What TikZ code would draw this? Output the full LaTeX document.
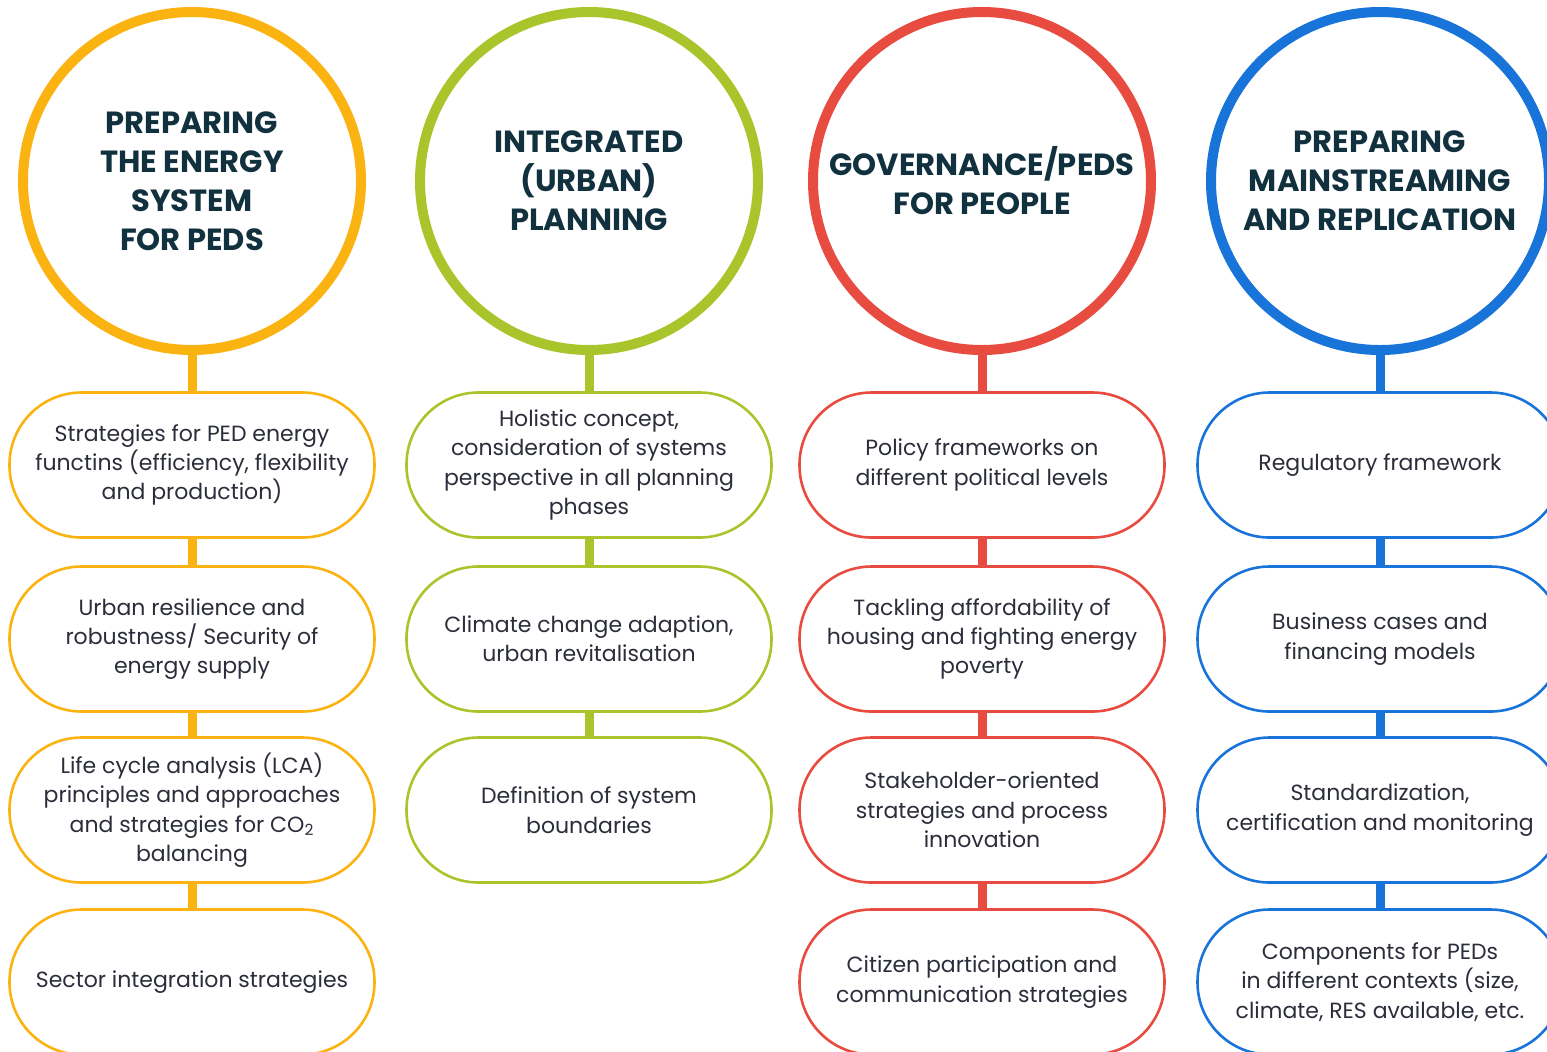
\documentclass[tikz,border=0pt]{standalone}
\usepackage{fontspec}
\setmainfont{Poppins}
\definecolor{pedorange}{HTML}{FBB311}
\definecolor{pedgreen}{HTML}{A9C52B}
\definecolor{pedred}{HTML}{E84B40}
\definecolor{pedblue}{HTML}{1874D8}
\definecolor{titleink}{HTML}{12313F}
\definecolor{bodyink}{HTML}{2B2E3A}
\begin{document}
\begin{tikzpicture}
  [x=0.5pt,y=-0.5pt,
   hub/.style={circle,draw,line width=5pt,minimum size=169pt,inner sep=0pt,align=center,
     text=titleink,font=\fontsize{15.3pt}{19.5pt}\selectfont\bfseries},
   item/.style={rectangle,draw,line width=1.3pt,rounded corners=36pt,minimum width=182.5pt,
     minimum height=72.5pt,inner sep=0pt,align=center,text=bodyink,
     font=\fontsize{11pt}{14.7pt}\selectfont},
   link/.style={line width=4.5pt}]
  \useasboundingbox (0,0) rectangle (1547,1051);
  \node[hub,draw=pedorange] (c1) at (192,181) {PREPARING\\THE ENERGY\\SYSTEM\\FOR PEDS};
  \node[hub,draw=pedgreen] (c2) at (589,181) {INTEGRATED\\(URBAN)\\PLANNING};
  \node[hub,draw=pedred] (c3) at (982,181) {GOVERNANCE/PEDS\\FOR PEOPLE};
  \node[hub,draw=pedblue] (c4) at (1380,181) {PREPARING\\MAINSTREAMING\\AND REPLICATION};

  \node[item,draw=pedorange] (a1) at (192,465) {Strategies for PED energy\\functins (efficiency, flexibility\\and production)};
  \node[item,draw=pedorange] (a2) at (192,639) {Urban resilience and\\robustness/ Security of\\energy supply};
  \node[item,draw=pedorange] (a3) at (192,810) {Life cycle analysis (LCA)\\principles and approaches\\and strategies for CO\textsubscript{2}\\balancing};
  \node[item,draw=pedorange] (a4) at (192,982) {Sector integration strategies};

  \node[item,draw=pedgreen] (b1) at (589,465) {Holistic concept,\\consideration of systems\\perspective in all planning\\phases};
  \node[item,draw=pedgreen] (b2) at (589,639) {Climate change adaption,\\urban revitalisation};
  \node[item,draw=pedgreen] (b3) at (589,810) {Definition of system\\boundaries};

  \node[item,draw=pedred] (d1) at (982,465) {Policy frameworks on\\different political levels};
  \node[item,draw=pedred] (d2) at (982,639) {Tackling affordability of\\housing and fighting energy\\poverty};
  \node[item,draw=pedred] (d3) at (982,810) {Stakeholder-oriented\\strategies and process\\innovation};
  \node[item,draw=pedred] (d4) at (982,982) {Citizen participation and\\communication strategies};

  \node[item,draw=pedblue] (e1) at (1380,465) {Regulatory framework};
  \node[item,draw=pedblue] (e2) at (1380,639) {Business cases and\\financing models};
  \node[item,draw=pedblue] (e3) at (1380,810) {Standardization,\\certification and monitoring};
  \node[item,draw=pedblue] (e4) at (1380,982) {Components for PEDs\\in different contexts (size,\\climate, RES available, etc.};

  \foreach \from/\to/\col in {c1/a1/pedorange,a1/a2/pedorange,a2/a3/pedorange,a3/a4/pedorange,
    c2/b1/pedgreen,b1/b2/pedgreen,b2/b3/pedgreen,
    c3/d1/pedred,d1/d2/pedred,d2/d3/pedred,d3/d4/pedred,
    c4/e1/pedblue,e1/e2/pedblue,e2/e3/pedblue,e3/e4/pedblue}
    \draw[link,\col] (\from) -- (\to);

\end{tikzpicture}
\end{document}
